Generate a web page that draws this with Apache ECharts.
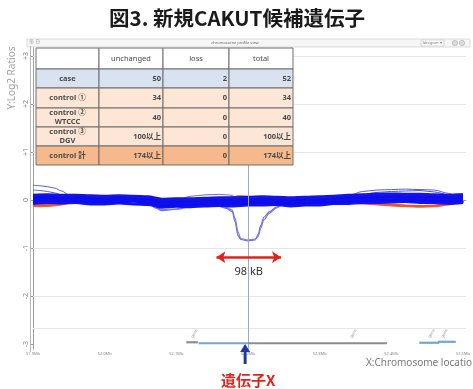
<!DOCTYPE html>
<html><head><meta charset="utf-8">
<script src="https://cdn.jsdelivr.net/npm/echarts@6/dist/echarts.min.js"></script>
<style>html,body{margin:0;padding:0;background:#fff;}#c{width:473px;height:389px;}</style>
</head><body><div id="c"></div>
<script>
// ---------- data ----------
const titleText = '図3. 新規CAKUT候補遺伝子';
const yAxisTitle = 'Y:Log2 Ratios';
const xAxisTitle = 'X:Chromosome location';
const yTickValues = [-3, -2, -1, 0, 1, 2, 3];
const xTickLabels = ['51.9Mb', '52.0Mb', '52.1Mb', '52.2Mb', '52.3Mb', '52.4Mb', '52.5Mb'];
const gridLevels = [3, 2, 1, -1, -2, -2.67];

// band traces (kb positions every 20 kb)
const bandKb = [0,20,40,60,80,100,120,140,160,180,200,220,240,260,280,300,320,340,360,380,400,420,440,460,480,500,520,540,560,580,600];
const band1 = [-0.07,-0.05,-0.06,-0.05,-0.08,-0.08,-0.06,-0.08,-0.09,-0.15,-0.13,-0.14,-0.12,-0.11,-0.12,-0.10,-0.10,-0.09,-0.12,-0.10,-0.10,-0.07,-0.07,-0.05,-0.05,-0.04,-0.03,-0.05,-0.05,-0.07,-0.05];
const band2 = [-0.02,-0.01,-0.02,-0.02,-0.03,-0.04,-0.03,-0.02,-0.05,-0.11,-0.10,-0.09,-0.08,-0.07,-0.07,-0.06,-0.05,-0.06,-0.07,-0.06,-0.05,-0.04,-0.02,-0.01,0.00,0.01,0.01,0.00,-0.01,-0.02,-0.01];
const band3 = [0.03,0.03,0.02,0.03,0.01,0.01,0.00,0.02,0.00,-0.07,-0.05,-0.05,-0.03,-0.04,-0.02,-0.02,-0.01,-0.01,-0.03,-0.02,0.00,0.00,0.03,0.03,0.04,0.06,0.05,0.04,0.04,0.02,0.03];
const band4 = [0.06,0.07,0.06,0.06,0.05,0.04,0.05,0.05,0.03,-0.03,-0.02,-0.01,0.00,0.00,0.01,0.02,0.03,0.02,0.01,0.02,0.03,0.04,0.06,0.07,0.08,0.09,0.09,0.08,0.07,0.06,0.07];
const band5 = [0.10,0.11,0.10,0.10,0.09,0.08,0.09,0.08,0.07,0.02,0.03,0.03,0.04,0.05,0.05,0.06,0.07,0.06,0.05,0.06,0.07,0.08,0.10,0.11,0.12,0.13,0.12,0.12,0.11,0.10,0.11];

// detailed traces (irregular kb positions)
const detailKb = [0,10,20,30,40,50,60,80,100,120,140,160,170,180,200,220,240,260,270,278,282,286,290,300,310,314,318,322,330,340,350,360,380,400,420,440,460,480,500,520,540,560,580,590,600];
const case1 = [0.02,0.03,0.02,0.03,0.02,0.01,0.02,0.01,0.00,0.01,0.01,0.00,-0.16,-0.22,-0.19,-0.14,-0.10,-0.13,-0.17,-0.24,-0.45,-0.74,-0.82,-0.85,-0.83,-0.72,-0.52,-0.36,-0.24,-0.14,-0.07,-0.03,-0.02,-0.01,0.00,0.02,0.03,0.04,0.05,0.05,0.04,0.03,0.02,0.03,0.03];
const case2 = [0.01,0.02,0.01,0.02,0.01,0.00,0.01,0.00,-0.01,0.00,0.00,-0.01,-0.13,-0.20,-0.18,-0.12,-0.09,-0.11,-0.15,-0.21,-0.38,-0.66,-0.80,-0.83,-0.81,-0.76,-0.58,-0.41,-0.27,-0.16,-0.09,-0.04,-0.03,-0.02,-0.01,0.01,0.02,0.03,0.04,0.04,0.03,0.02,0.01,0.02,0.02];
const traceU = [0.05,0.04,0.05,0.04,0.03,0.03,0.03,0.02,0.02,0.03,0.02,0.02,-0.03,-0.03,0.00,0.08,0.11,0.12,0.11,0.10,0.06,0.03,0.01,0.00,0.01,0.01,0.01,0.01,0.00,0.00,0.00,-0.01,0.00,0.01,0.02,0.04,0.05,0.06,0.07,0.07,0.06,0.05,0.04,0.05,0.05];
const traceL1 = [0.31,0.30,0.28,0.25,0.19,0.11,0.06,0.04,0.03,0.04,0.03,0.03,-0.02,-0.03,-0.02,-0.01,0.00,0.00,0.01,0.01,0.01,0.02,0.02,0.02,0.03,0.03,0.03,0.03,0.02,0.02,0.01,0.00,0.01,0.02,0.03,0.05,0.06,0.07,0.08,0.08,0.07,0.06,0.05,0.06,0.06];
const traceL2 = [0.21,0.20,0.18,0.15,0.11,0.07,0.04,0.03,0.02,0.03,0.02,0.02,-0.04,-0.05,-0.04,-0.03,-0.02,-0.02,-0.02,-0.01,-0.01,-0.01,0.00,0.00,0.01,0.01,0.01,0.01,0.00,-0.01,-0.01,-0.01,0.00,0.01,0.03,0.09,0.18,0.21,0.22,0.23,0.22,0.21,0.14,0.10,0.09];
const traceR2 = [-0.03,-0.02,-0.03,-0.02,-0.03,-0.04,-0.03,-0.04,-0.05,-0.04,-0.04,-0.05,-0.09,-0.10,-0.09,-0.08,-0.07,-0.07,-0.06,-0.06,-0.05,-0.05,-0.05,-0.04,-0.03,-0.03,-0.03,-0.03,-0.04,-0.05,-0.05,-0.04,-0.03,-0.02,0.00,0.04,0.12,0.16,0.18,0.19,0.20,0.17,0.11,0.13,0.13];
const control1 = [-0.12,-0.13,-0.12,-0.11,-0.09,-0.06,-0.04,-0.03,-0.02,-0.02,-0.02,-0.03,-0.06,-0.07,-0.06,-0.05,-0.03,-0.01,0.02,0.05,0.07,0.08,0.08,0.07,0.06,0.05,0.04,0.03,0.01,0.00,-0.01,-0.02,-0.02,-0.03,-0.04,-0.05,-0.07,-0.09,-0.11,-0.13,-0.14,-0.13,-0.09,-0.06,-0.04];
const control2 = [-0.09,-0.10,-0.10,-0.08,-0.07,-0.05,-0.03,-0.02,-0.02,-0.01,-0.01,-0.02,-0.07,-0.08,-0.07,-0.06,-0.04,0.00,0.03,0.06,0.06,0.07,0.07,0.06,0.06,0.05,0.05,0.04,0.03,0.02,0.02,0.01,0.00,0.00,-0.02,-0.03,-0.05,-0.07,-0.09,-0.11,-0.12,-0.11,-0.08,-0.05,-0.03];

// gene track: [startKb, endKb, y, kind]
const geneSegments = [[214,230,-2.96,0],[231,300,-2.98,1],[300,494,-2.98,0],[539,567,-2.97,1],[565,590,-2.95,1]];
const geneLabelKb = [225, 447, 556, 574];
const geneLabelText = ['gene', 'gene', 'gene', 'gene'];

// annotations
const markerKb = 300;
const spanKb = [256, 346];
const spanY = -1.19;
const spanText = '98 kB';
const geneXKb = 296;
const geneXText = '遺伝子X';

// table
const tableHeaders = ['', 'unchanged', 'loss', 'total'];
const tableRows = ['case', 'control ①', 'control ②\nWTCCC', 'control ③\nDGV', 'control 計'];
const unchangedCounts = ['50', '34', '40', '100以上', '174以上'];
const lossCounts = ['2', '0', '0', '0', '0'];
const totalCounts = ['52', '34', '40', '100以上', '174以上'];

// ---------- chart ----------
const chart = echarts.init(document.getElementById('c'), null, {renderer: 'canvas'});
const toPairs = (xs, ys) => xs.map((x, i) => [x, ys[i]]);
const FONT = '"Noto Sans", "Noto Sans CJK JP", sans-serif';
function ln(name, xs, ys, color, width, z, extra) {
  return Object.assign({
    type: 'line', name, data: toPairs(xs, ys), showSymbol: false, symbol: 'none',
    smooth: 0.3, smoothMonotone: 'x', lineStyle: {color, width}, z, silent: true, animation: false
  }, extra || {});
}
const geneColors = ['#8d8d8d', '#6fa8d6'];

const series = [
  ln('control1', detailKb, control1, '#ee6030', 2, 2, {
    markLine: {silent: true, symbol: 'none', label: {show: false},
      lineStyle: {color: '#e6e6e6', width: 1, type: 'solid'},
      data: gridLevels.map(v => ({yAxis: v}))}
  }),
  ln('control2', detailKb, control2, '#e8552a', 2, 2, {
    markLine: {silent: true, symbol: 'none', label: {show: false},
      lineStyle: {color: '#9ea7cf', width: 1, type: 'solid'},
      data: [{xAxis: markerKb}]}
  }),
  ln('L1', detailKb, traceL1, '#5b5bdc', 1, 3),
  ln('L2', detailKb, traceL2, '#5b5bdc', 1, 3),
  ln('R2', detailKb, traceR2, '#4e4ee0', 1, 3),
  ln('U', detailKb, traceU, '#6a6ad8', 1, 3),
  ln('case1', detailKb, case1, '#6d6dd6', 1.2, 3),
  ln('case2', detailKb, case2, '#7878da', 1.2, 3),
  ln('b1', bandKb, band1, '#1414ea', 3, 4),
  ln('b2', bandKb, band2, '#0c0cf0', 3, 4),
  ln('b3', bandKb, band3, '#1010e8', 3, 4),
  ln('b4', bandKb, band4, '#0c0cf0', 3, 4),
  ln('b5', bandKb, band5, '#1414e6', 3, 4, {
    markLine: {silent: true, symbol: ['arrow', 'arrow'], symbolSize: [9, 9], label: {show: false},
      lineStyle: {color: '#e0221c', width: 2.5, type: 'solid'},
      data: [[{coord: [spanKb[0], spanY]}, {coord: [spanKb[1], spanY]}]]}
  }),
  {
    type: 'custom', silent: true, animation: false, z: 5,
    data: geneSegments,
    encode: {x: [0, 1], y: 2},
    renderItem: (params, api) => {
      const s = api.coord([api.value(0), api.value(2)]);
      const e = api.coord([api.value(1), api.value(2)]);
      return {type: 'line', shape: {x1: s[0], y1: s[1], x2: e[0], y2: e[1]},
        style: {stroke: geneColors[api.value(3)], lineWidth: 2.2}};
    }
  },
  {
    type: 'custom', silent: true, animation: false, z: 5,
    data: geneLabelKb.map((k, i) => [k, -2.78, i]),
    renderItem: (params, api) => {
      const p = api.coord([api.value(0), api.value(1)]);
      return {type: 'text', x: p[0], y: p[1], rotation: Math.PI / 3,
        style: {text: geneLabelText[api.value(2)], fill: '#9a9a9a', font: '4px ' + FONT,
          align: 'center', verticalAlign: 'middle'}};
    }
  }
];

chart.setOption({
  animation: false,
  grid: {left: 33, right: 3, top: 45, bottom: 40, containLabel: false},
  xAxis: {
    type: 'value', min: 0, max: 604, interval: 100,
    axisLine: {show: true, lineStyle: {color: '#9a9a9a', width: 1}},
    axisTick: {show: true, length: 3, lineStyle: {color: '#8a8a8a'}},
    axisLabel: {fontSize: 4, color: '#888', margin: 3, fontFamily: FONT,
      formatter: v => xTickLabels[Math.round(v / 100)] || ''},
    splitLine: {show: false}
  },
  yAxis: {
    type: 'value', min: -3.1, max: 3.23,
    axisLine: {show: true, lineStyle: {color: '#a0a0a0', width: 1}},
    axisTick: {show: true, length: 2, customValues: yTickValues, lineStyle: {color: '#999'}},
    axisLabel: {customValues: yTickValues, rotate: 90, fontSize: 7, color: '#888', margin: 4,
      fontFamily: FONT, formatter: v => (v > 0 ? '+' + v : String(v))},
    splitLine: {show: false}
  },
  series
});

// ---------- overlays ----------
function px(x, y) { return chart.convertToPixel({gridIndex: 0}, [x, y]); }
const g = [];
// title
g.push({type: 'text', x: 237, y: 18, z: 100,
  style: {text: titleText, font: 'bold 20.5px "Noto Sans CJK JP", sans-serif', fill: '#1a1a1a', align: 'center', verticalAlign: 'middle'}});
// header bar
g.push({type: 'rect', shape: {x: 27, y: 39, width: 443, height: 8}, z: 50,
  style: {fill: '#f6f6f6', stroke: '#dcdcdc', lineWidth: 1}});
g.push({type: 'text', x: 235, y: 43, z: 51,
  style: {text: 'chromosome profile view', font: '4px ' + FONT, fill: '#666', align: 'center', verticalAlign: 'middle'}});
g.push({type: 'rect', shape: {x: 421, y: 40, width: 23, height: 6}, z: 51,
  style: {fill: '#fff', stroke: '#cfcfcf', lineWidth: 0.8}});
g.push({type: 'text', x: 432, y: 43, z: 52,
  style: {text: 'Ideogram ▾', font: '3.5px ' + FONT, fill: '#777', align: 'center', verticalAlign: 'middle'}});
g.push({type: 'circle', shape: {cx: 455, cy: 43, r: 2.6}, z: 51, style: {fill: '#ddd', stroke: '#aaa', lineWidth: 0.6}});
g.push({type: 'circle', shape: {cx: 462, cy: 43, r: 2.6}, z: 51, style: {fill: '#ddd', stroke: '#aaa', lineWidth: 0.6}});
g.push({type: 'text', x: 29, y: 42, z: 52,
  style: {text: '⊕ ⊖', font: '5px ' + FONT, fill: '#888', align: 'left', verticalAlign: 'middle'}});
// left double rule
g.push({type: 'line', shape: {x1: 30.5, y1: 46, x2: 30.5, y2: 352}, z: 50, style: {stroke: '#b8b8b8', lineWidth: 1}});
// axis titles
g.push({type: 'text', x: 12, y: 78, rotation: Math.PI / 2, z: 50,
  style: {text: yAxisTitle, font: '10px ' + FONT, fill: '#a0a0a0', align: 'center', verticalAlign: 'middle'}});
g.push({type: 'text', x: 366, y: 363, z: 50,
  style: {text: xAxisTitle, font: '10px ' + FONT, fill: '#7a7a7a', align: 'left', verticalAlign: 'middle'}});
// span label
const sp = px((spanKb[0] + spanKb[1]) / 2, spanY);
g.push({type: 'text', x: sp[0], y: sp[1] + 15, z: 60,
  style: {text: spanText, font: '11px ' + FONT, fill: '#333', align: 'center', verticalAlign: 'middle'}});
// gene X arrow
const gx = px(geneXKb, -3)[0];
g.push({type: 'line', shape: {x1: gx, y1: 364, x2: gx, y2: 350}, z: 60, style: {stroke: '#1f3a9e', lineWidth: 3}});
g.push({type: 'polygon', shape: {points: [[gx - 5, 352], [gx + 5, 352], [gx, 344]]}, z: 60, style: {fill: '#1f3a9e'}});
g.push({type: 'text', x: gx + 3, y: 380, z: 60,
  style: {text: geneXText, font: 'bold 15px "Noto Sans CJK JP", sans-serif', fill: '#e2241e', align: 'center', verticalAlign: 'middle'}});
// table
const colX = [36, 99, 163, 229, 293];
const rowY = [48, 69, 88, 108, 127, 146, 165];
const rowFill = ['#ffffff', '#d9e2f1', '#fde6d6', '#fde6d6', '#fde6d6', '#f6b98b'];
const cells = [tableHeaders].concat(tableRows.map((r, i) => [r, unchangedCounts[i], lossCounts[i], totalCounts[i]]));
const TFONT = 'bold 7.5px "Noto Sans", "Noto Sans CJK JP", sans-serif';
cells.forEach((row, r) => {
  row.forEach((txt, c) => {
    const x0 = colX[c], x1 = colX[c + 1], y0 = rowY[r], y1 = rowY[r + 1];
    g.push({type: 'rect', z: 90, shape: {x: x0, y: y0, width: x1 - x0, height: y1 - y0},
      style: {fill: rowFill[r], stroke: '#6e6e6e', lineWidth: 1}});
    if (!txt) return;
    const center = (r === 0 || c === 0);
    g.push({type: 'text', z: 91, x: center ? (x0 + x1) / 2 : x1 - 2, y: (y0 + y1) / 2,
      style: {text: txt, font: r === 0 ? '7.5px "Noto Sans", sans-serif' : TFONT, fill: '#4a4a4a',
        align: center ? 'center' : 'right', verticalAlign: 'middle', lineHeight: 8.5}});
  });
});
chart.setOption({graphic: {elements: g}});
</script>
</body></html>
